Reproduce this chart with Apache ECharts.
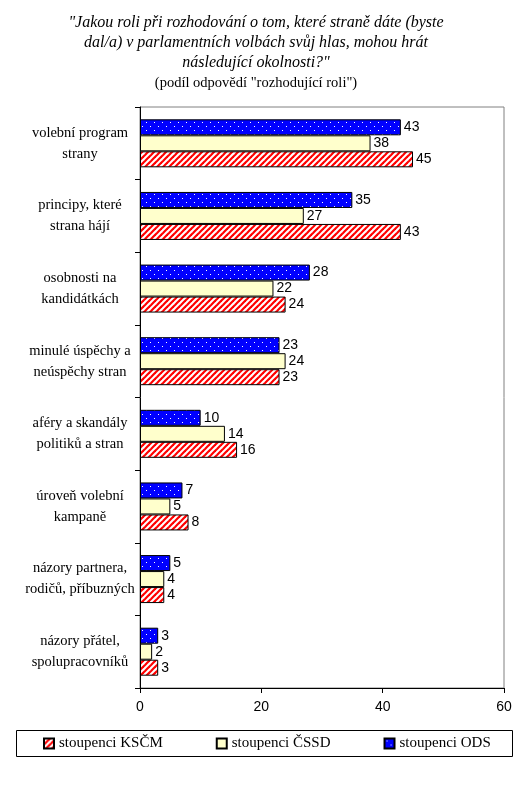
<!DOCTYPE html>
<html>
<head>
<meta charset="utf-8">
<script src="https://cdn.jsdelivr.net/npm/echarts@6/dist/echarts.min.js"></script>
<style>html,body{margin:0;padding:0;background:#fff}#c{width:519px;height:786px}</style>
</head>
<body>
<div id="c"></div>
<script>
var categories = ["volební program\nstrany", "principy, které\nstrana hájí", "osobnosti na\nkandidátkách", "minulé úspěchy a\nneúspěchy stran", "aféry a skandály\npolitiků a stran", "úroveň volební\nkampaně", "názory partnera,\nrodičů, příbuzných", "názory přátel,\nspolupracovníků"];
var ods = [43, 35, 28, 23, 10, 7, 5, 3];
var cssd = [38, 27, 22, 24, 14, 5, 4, 2];
var kscm = [45, 43, 24, 23, 16, 8, 4, 3];
var xTicks = [0, 20, 40, 60];
var titleLines = "\"Jakou roli při rozhodování o tom, které straně dáte (byste\ndal/a) v parlamentních volbách svůj hlas, mohou hrát\nnásledující okolnosti?\"";
var subtitle = "(podíl odpovědí \"rozhodující roli\")";

function stripes() {
  var c = document.createElement('canvas'); c.width = 6; c.height = 6;
  var g = c.getContext('2d');
  g.fillStyle = '#fff'; g.fillRect(0, 0, 6, 6);
  g.strokeStyle = '#ff0000'; g.lineWidth = 2.2;
  for (var k = -1; k <= 1; k++) {
    g.beginPath(); g.moveTo(k * 6 - 1, 7); g.lineTo(k * 6 + 7, -1); g.stroke();
  }
  return c;
}
function dots() {
  var c = document.createElement('canvas'); c.width = 8; c.height = 8;
  var g = c.getContext('2d');
  g.fillStyle = '#0000ff'; g.fillRect(0, 0, 8, 8);
  g.fillStyle = '#ffffff';
  g.fillRect(2, 2, 1, 1); g.fillRect(6, 6, 1, 1);
  return c;
}

var chart = echarts.init(document.getElementById('c'));
var lbl = {show: true, position: 'right', distance: 3, color: '#000', fontFamily: 'Liberation Sans', fontSize: 14};
var common = {type: 'bar', barWidth: 16, barGap: '0%', label: lbl, animation: false};
chart.setOption({
  animation: false,
  title: {
    text: titleLines, subtext: subtitle, left: 256, top: 13, textAlign: 'center', itemGap: 0, padding: 0,
    textStyle: {fontFamily: 'Liberation Serif', fontStyle: 'italic', fontWeight: 'normal', fontSize: 16, color: '#000', lineHeight: 20},
    subtextStyle: {fontFamily: 'Liberation Serif', fontSize: 14.5, color: '#000', lineHeight: 20}
  },
  grid: {left: 140, right: 15, top: 107, bottom: 98, show: true, borderColor: '#808080', borderWidth: 1},
  legend: {
    data: ['stoupenci KSČM', 'stoupenci ČSSD', 'stoupenci ODS'],
    left: 43, top: 736, padding: 0, itemGap: 53, itemWidth: 10, itemHeight: 10, icon: 'rect',
    textStyle: {fontFamily: 'Liberation Serif', fontSize: 15, color: '#000'}
  },
  graphic: [{type: 'rect', shape: {x: 16.5, y: 730.5, width: 496, height: 26}, style: {fill: 'none', stroke: '#000', lineWidth: 1}, z: 100}],
  xAxis: {
    type: 'value', min: 0, max: 60, interval: 20,
    axisLine: {show: true, lineStyle: {color: '#000'}},
    axisTick: {show: true, length: 5, lineStyle: {color: '#000'}},
    splitLine: {show: false},
    axisLabel: {margin: 12, color: '#000', fontFamily: 'Liberation Sans', fontSize: 14,
      formatter: function (v) { return xTicks.indexOf(v) >= 0 ? String(v) : ''; }}
  },
  yAxis: {
    type: 'category', data: categories, inverse: true,
    axisLine: {show: true, lineStyle: {color: '#000'}},
    axisTick: {show: true, length: 5, lineStyle: {color: '#000'}},
    axisLabel: {margin: 60, align: 'center', color: '#000', fontFamily: 'Liberation Serif', fontSize: 14.5, lineHeight: 21, padding: [9, 0, 0, 0]}
  },
  series: [
    Object.assign({name: 'stoupenci ODS', data: ods, itemStyle: {color: {image: dots(), repeat: 'repeat'}, borderColor: '#000', borderWidth: 1}}, common),
    Object.assign({name: 'stoupenci ČSSD', data: cssd, itemStyle: {color: '#ffffcc', borderColor: '#000', borderWidth: 1}}, common),
    Object.assign({name: 'stoupenci KSČM', data: kscm, itemStyle: {color: {image: stripes(), repeat: 'repeat'}, borderColor: '#000', borderWidth: 1}}, common)
  ]
});
</script>
</body>
</html>
